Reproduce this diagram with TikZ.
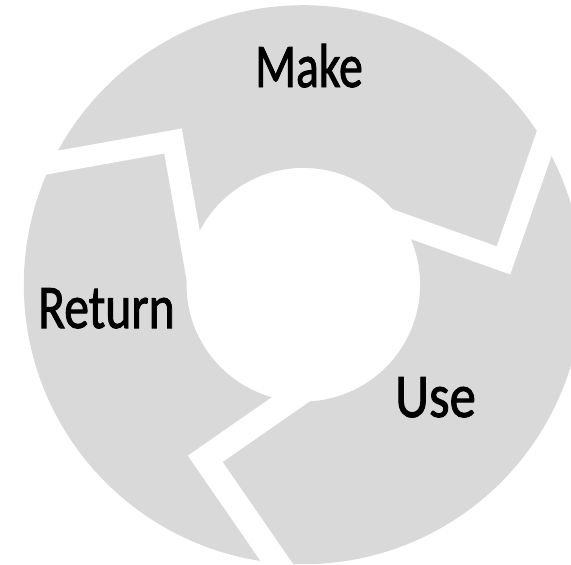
\documentclass[tikz,border=0pt]{standalone}
\usepackage{fontspec}
\usepackage{graphicx}
\setmainfont{Carlito}
\newfontfamily\labelfont[FakeBold=1.6]{Carlito}
\definecolor{ringgray}{RGB}{217,217,217}
\tikzset{
  gapband/.style={draw=white, line join=miter, line cap=butt},
  word/.style={inner sep=0pt, anchor=base west, text=black, font=\labelfont\fontsize{62}{62}\selectfont}
}
\begin{document}
\begin{tikzpicture}[x=1pt,y=-1pt]
\useasboundingbox (0,0) rectangle (571,565);
\clip (0,0) rectangle (571,565);
\coordinate (C) at (303.3,284.7);
\fill[ringgray, even odd rule] (C) circle[radius=279.5pt] (C) circle[radius=116.8pt];
% cut between Return and Make
\coordinate (a1) at (5.7,170.9);
\coordinate (a2) at (173,141);
\coordinate (a3) at (201.5,302.5);
\draw[gapband, line width=21.5pt] (a1) -- (a2) -- (a3);
% cut between Make and Use
\coordinate (b1) at (559.3,99.9);
\coordinate (b2) at (503.5,260.4);
\coordinate (b3) at (343.4,203.4);
\draw[gapband, line width=22pt] (b1) -- (b2) -- (b3);
% cut between Use and Return
\coordinate (c1) at (348.9,358.9);
\coordinate (c2) at (205.2,458.8);
\coordinate (c3) at (290,581.6);
\draw[gapband, line width=25pt] (c1) -- (c2) -- (c3);
% labels
\node[word] (make) at (255,87) {\scalebox{0.77}[1]{Make}};
\node[word] (return) at (38,328) {\scalebox{0.80}[1]{Return}};
\node[word] (use) at (395,417) {\scalebox{0.85}[1]{Use}};
\end{tikzpicture}
\end{document}
